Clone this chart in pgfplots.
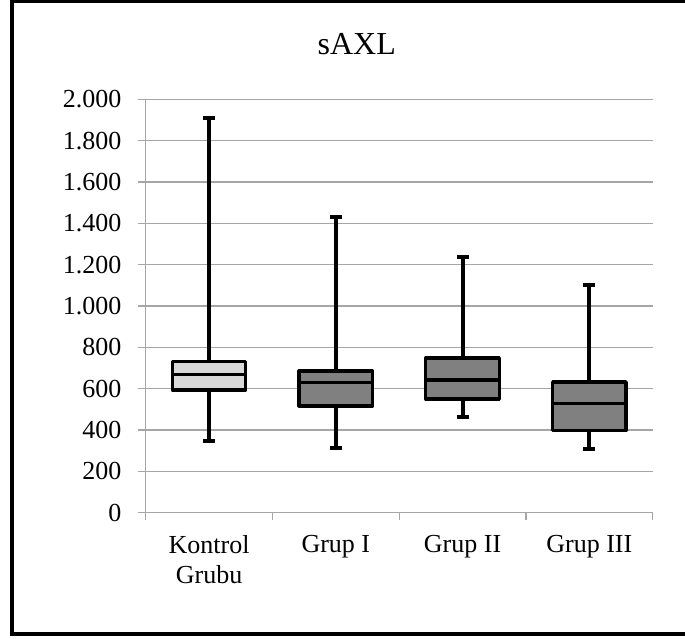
\documentclass[border=0pt]{standalone}
\usepackage{pgfplots}
\pgfplotsset{compat=1.18}
\usepackage{fontspec}
\setmainfont{Liberation Serif}

\definecolor{gridgray}{HTML}{A6A6A6}
\definecolor{boxlight}{HTML}{D9D9D9}
\definecolor{boxdark}{HTML}{808080}

\begin{document}
\begin{tikzpicture}
  \useasboundingbox (0pt,0pt) rectangle (685pt,639pt);
  % chart frame (right edge falls outside the page)
  \draw[line width=4pt] (700pt,637.5pt) -- (11.5pt,637.5pt) -- (11.5pt,5pt) -- (700pt,5pt);
  % title
  \node[anchor=base, font=\fontsize{32}{36}\selectfont] at (356.7pt,584pt) {sAXL};

  \begin{axis}[
    at={(145.7pt,126.2pt)}, anchor=south west,
    scale only axis, width=507pt, height=413.5pt,
    xmin=0.5, xmax=4.5, ymin=0, ymax=2000,
    clip=false,
    axis x line*=bottom, axis y line*=left,
    axis line style={draw=gridgray, line width=1.3pt, -},
    ytick={0,200,...,2000},
    xtick={1,2,3,4},
    xticklabels={{Kontrol\\Grubu},{Grup I},{Grup II},{Grup III}},
    minor xtick={0.5,1.5,2.5,3.5,4.5},
    major x tick style={draw=none},
    minor x tick style={draw=gridgray, line width=1.3pt},
    major y tick style={draw=gridgray, line width=1.3pt},
    tick align=outside,
    minor tick length=7pt, major tick length=8pt,
    ymajorgrids, grid style={draw=gridgray, line width=1.3pt},
    yticklabel={\pgfmathprintnumber[1000 sep={.}, assume math mode=true]{\tick}},
    ticklabel style={font=\fontsize{26}{30}\selectfont},
    xticklabel style={align=center, anchor=north, inner sep=0pt, yshift=-14pt},
    yticklabel style={anchor=east, inner sep=0pt, xshift=-16pt},
    whisk/.style={draw=black, line width=4pt, mark=none},
    box/.style={draw=black, line width=3.2pt, line join=round, mark=none},
    med/.style={draw=black, line width=3.2pt, mark=none},
  ]
    % whiskers with end caps (lower whisker to upper whisker)
    \addplot[whisk] coordinates {(1,347) (1,1910)};
    \addplot[whisk] coordinates {(0.9525,347) (1.0475,347)};
    \addplot[whisk] coordinates {(0.9525,1910) (1.0475,1910)};
    \addplot[whisk] coordinates {(2,315) (2,1432)};
    \addplot[whisk] coordinates {(1.9525,315) (2.0475,315)};
    \addplot[whisk] coordinates {(1.9525,1432) (2.0475,1432)};
    \addplot[whisk] coordinates {(3,462) (3,1236)};
    \addplot[whisk] coordinates {(2.9525,462) (3.0475,462)};
    \addplot[whisk] coordinates {(2.9525,1236) (3.0475,1236)};
    \addplot[whisk] coordinates {(4,307) (4,1100)};
    \addplot[whisk] coordinates {(3.9525,307) (4.0475,307)};
    \addplot[whisk] coordinates {(3.9525,1100) (4.0475,1100)};
    % boxes: lower quartile to upper quartile
    \addplot[box, fill=boxlight] coordinates {(0.71,594) (1.29,594) (1.29,731) (0.71,731)} -- cycle;
    \addplot[box, fill=boxdark] coordinates {(1.71,517) (2.29,517) (2.29,686) (1.71,686)} -- cycle;
    \addplot[box, fill=boxdark] coordinates {(2.71,550) (3.29,550) (3.29,749) (2.71,749)} -- cycle;
    \addplot[box, fill=boxdark] coordinates {(3.71,397) (4.29,397) (4.29,633) (3.71,633)} -- cycle;
    % medians
    \addplot[med] coordinates {(0.71,667) (1.29,667)};
    \addplot[med] coordinates {(1.71,629) (2.29,629)};
    \addplot[med] coordinates {(2.71,642) (3.29,642)};
    \addplot[med] coordinates {(3.71,528) (4.29,528)};
  \end{axis}
\end{tikzpicture}
\end{document}
